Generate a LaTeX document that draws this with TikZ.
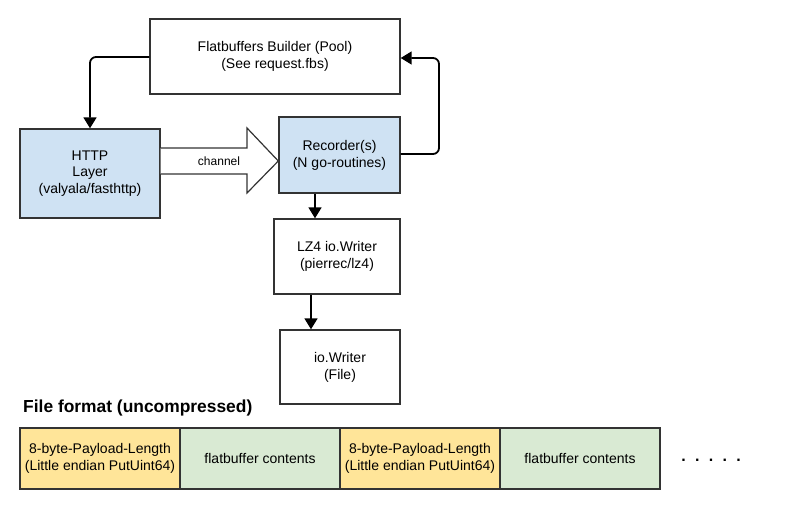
\documentclass[tikz,border=0pt]{standalone}
\usepackage{fontspec}
\setmainfont{Liberation Sans}
\usetikzlibrary{arrows.meta,calc}
\definecolor{boxblue}{HTML}{CFE2F3}
\definecolor{boxorange}{HTML}{FFE599}
\definecolor{boxgreen}{HTML}{D9EAD3}
\definecolor{boxline}{HTML}{333333}
\begin{document}
\begin{tikzpicture}[x=1pt,y=-1pt,
  box/.style={draw=boxline, line width=1.4pt, align=center, inner sep=0pt,
    font=\fontsize{14}{16.8}\selectfont},
  cell/.style={box, minimum width=160, minimum height=61},
  conn/.style={line width=1.8pt, -{Triangle[length=11pt,width=13pt]}, rounded corners=6pt},
  chan/.style={draw=boxline, line width=1.2pt, fill=white, line join=miter}]
\useasboundingbox (0,0) rectangle (808,508);

\node[box, minimum width=250, minimum height=75] (fb) at (275,56.5)
  {Flatbuffers Builder (Pool)\\(See request.fbs)};
\node[box, fill=boxblue, minimum width=140, minimum height=89] (http) at (90,173.5)
  {HTTP\\Layer\\(valyala/fasthttp)};
\node[box, fill=boxblue, minimum width=121, minimum height=76] (rec) at (339.5,155)
  {Recorder(s)\\(N go-routines)};
\node[box, minimum width=126, minimum height=75] (lz4) at (337,256.5)
  {LZ4 io.Writer\\(pierrec/lz4)};
\node[box, minimum width=120, minimum height=74] (io) at (340,367)
  {io.Writer\\(File)};

% channel block arrow
\coordinate (ct) at (0,148);
\coordinate (cb) at (0,174);
\coordinate (ht) at (247,128);
\coordinate (hb) at (247,193);
\coordinate (tip) at (0,161);
\draw[chan] (http.east |- ct) -- (ht |- ct) -- (ht) -- (rec.west |- tip) -- (hb) -- (hb |- cb) -- (http.east |- cb);
\node[font=\fontsize{12}{14}\selectfont] (chlabel) at (219,161) {channel};

% connectors
\coordinate (fbl) at (90,57);
\draw[conn] (fb.west |- fbl) -- (fbl) -- (http.north);
\coordinate (rr) at (439,154);
\coordinate (rt) at (439,58);
\draw[conn] (rec.east |- rr) -- (rr) -- (rt) -- (fb.east |- rt);
\coordinate (a1) at (315,0);
\draw[conn] (a1 |- rec.south) -- (a1 |- lz4.north);
\coordinate (a2) at (311,0);
\draw[conn] (a2 |- lz4.south) -- (a2 |- io.north);

% file format
\node[anchor=base west, inner sep=0pt, font=\fontsize{17.4}{20}\selectfont\bfseries] (title) at (23,412)
  {File format (uncompressed)};
\node[cell, fill=boxorange] (c1) at (100,458.5) {8-byte-Payload-Length\\(Little endian PutUint64)};
\node[cell, fill=boxgreen] (c2) at (260,458.5) {flatbuffer contents};
\node[cell, fill=boxorange] (c3) at (420,458.5) {8-byte-Payload-Length\\(Little endian PutUint64)};
\node[cell, fill=boxgreen] (c4) at (580,458.5) {flatbuffer contents};
\node[font=\fontsize{16}{18}\selectfont\bfseries, inner sep=0pt] (dots) at (711,460)
  {.\hspace{9.3pt}.\hspace{9.3pt}.\hspace{9.3pt}.\hspace{9.3pt}.};
\end{tikzpicture}
\end{document}
